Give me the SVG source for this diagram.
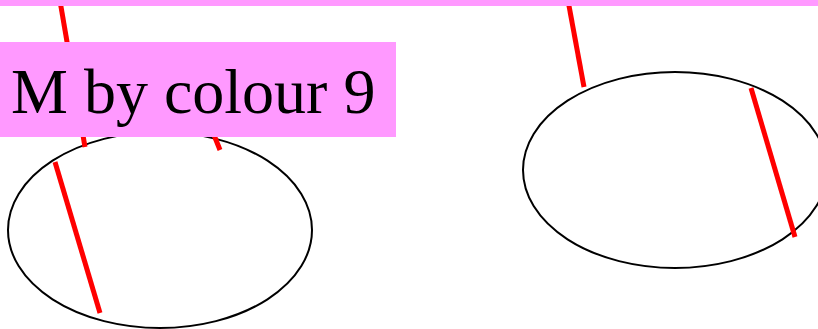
<svg xmlns="http://www.w3.org/2000/svg" width="818" height="329" viewBox="0 0 818 329">
<style>
.node{fill:#fff;stroke:#000;stroke-width:2}
.edge{stroke:#ff0000;stroke-width:5;fill:none}
.pink{fill:#ff99ff}
.label{font-family:"Liberation Serif","Times New Roman",serif;font-size:64px;fill:#000}
</style>
<rect width="818" height="329" fill="#fff"/>
<g id="node-left"><ellipse class="node" cx="160" cy="230" rx="152" ry="98"/></g>
<g id="node-right"><ellipse class="node" cx="675" cy="170" rx="152" ry="98"/></g>
<g id="connectors">
<line class="edge" x1="59" y1="-5" x2="85" y2="147"/>
<line class="edge" x1="200" y1="100" x2="220" y2="150"/>
<line class="edge" x1="55" y1="162" x2="100" y2="313"/>
<line class="edge" x1="567" y1="-5" x2="584" y2="87"/>
<line class="edge" x1="751" y1="88" x2="795" y2="237"/>
</g>
<g id="label-box">
<rect class="pink" x="0" y="42" width="396" height="95"/>
<text class="label" x="11" y="113">M by colour 9</text>
</g>
<rect id="top-bar" class="pink" x="0" y="0" width="818" height="6"/>
</svg>
